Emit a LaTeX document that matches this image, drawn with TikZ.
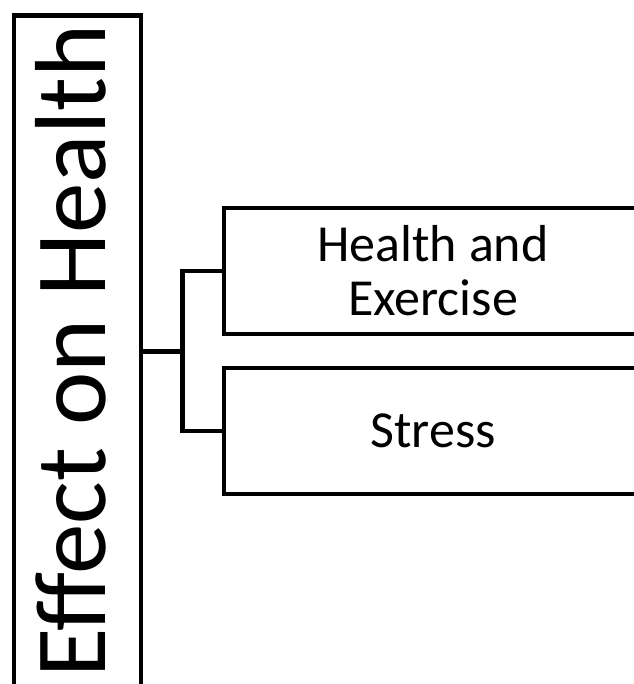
\documentclass[tikz,border=0pt]{standalone}
\usepackage{fontspec}
\setmainfont{Carlito}
\begin{document}
\begin{tikzpicture}[x=0.75pt,y=-0.75pt,
  lw/.style={line width=3.4pt},
  box/.style={draw, lw, minimum width=313.5pt, minimum height=94.5pt, inner sep=0pt,
    align=center, font=\fontsize{39pt}{40.5pt}\selectfont},
  bigtext/.style={rotate=90, anchor=base, inner sep=0pt, font=\fontsize{75.75pt}{90pt}\selectfont}]
\useasboundingbox (0,0) rectangle (634,684);
\clip (0,0) rectangle (634,684);
\node[draw, lw, minimum width=95.25pt, minimum height=504pt, inner sep=0pt] (main) at (77.5,351.5) {};
\node[bigtext] (mainlabel) at (105,351) {Effect on Health};
\node[box] (b1) at (433,271) {Health and\\Exercise};
\node[box] (b2) at (433,431) {Stress};
\coordinate (jn) at (182.5,351.5);
\draw[lw] (main.east) -- (jn);
\draw[lw] (b1.west) -| (jn) |- (b2.west);
\end{tikzpicture}
\end{document}
